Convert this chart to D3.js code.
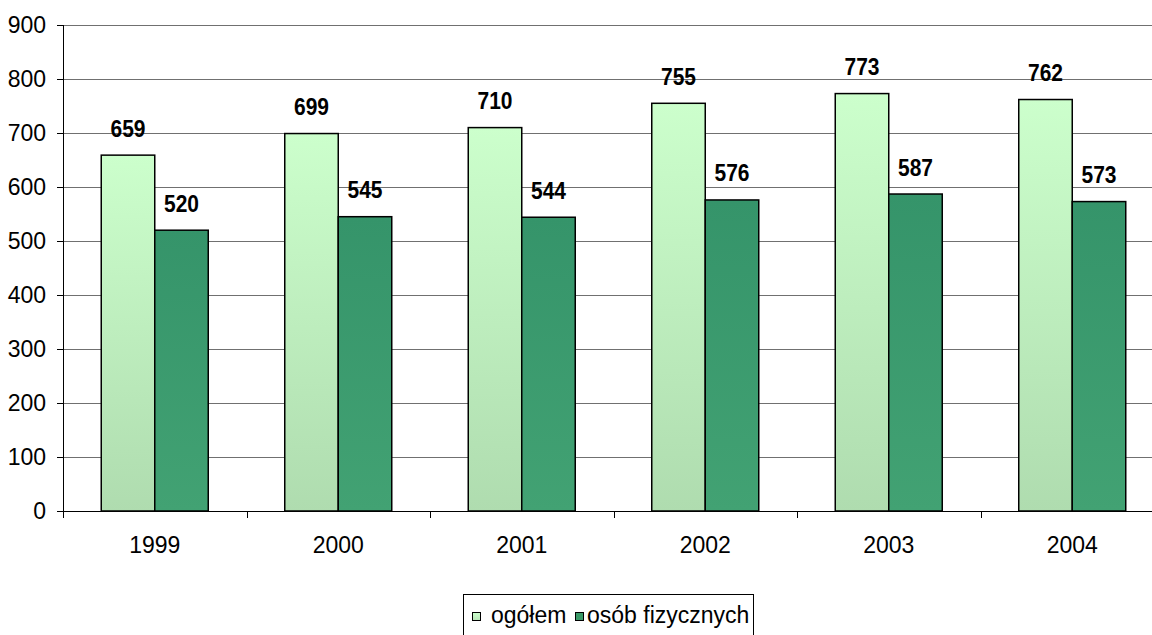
<!DOCTYPE html>
<html>
<head>
<meta charset="utf-8">
<script src="https://cdn.jsdelivr.net/npm/d3@7"></script>
<style>
  html, body { margin: 0; padding: 0; background: #fff; }
  svg { display: block; }
  text { font-family: "Liberation Sans", Arial, Helvetica, sans-serif; fill: #000; }
</style>
</head>
<body>
<svg id="chart" width="1152" height="635"></svg>
<script>
// Data
const years = ["1999", "2000", "2001", "2002", "2003", "2004"];
const seriesNames = ["ogółem", "osób fizycznych"];
const ogolem = [659, 699, 710, 755, 773, 762];
const osobFizycznych = [520, 545, 544, 576, 587, 573];
const yTicks = [0, 100, 200, 300, 400, 500, 600, 700, 800, 900];

const seriesValues = [ogolem, osobFizycznych];
const fills = ["url(#gradLight)", "url(#gradDark)"];
const legendFills = ["url(#gradLightLegend)", "#3a9a68"];

const svg = d3.select("#chart");
const chartW = 1152;
const fontSize = 23;

// Layout
const plotLeft = 63, plotTop = 25, plotBottom = 511;
const catW = 183.5;
const groupW = 107;

const x0 = d3.scaleBand().domain(years).range([plotLeft, plotLeft + catW * years.length]).padding(0);
const x1 = d3.scaleBand().domain(seriesNames).range([0, groupW]).padding(0);
const y = d3.scaleLinear().domain([0, 900]).range([plotBottom, plotTop]);

// Gradients
const defs = svg.append("defs");
function vgrad(id, c0, c1) {
  const g = defs.append("linearGradient").attr("id", id)
    .attr("x1", 0).attr("y1", 0).attr("x2", 0).attr("y2", 1);
  g.append("stop").attr("offset", "0%").attr("stop-color", c0);
  g.append("stop").attr("offset", "100%").attr("stop-color", c1);
}
vgrad("gradLight", "#ccffcc", "#afdcaf");
vgrad("gradDark", "#35946a", "#42a273");
vgrad("gradLightLegend", "#ccffcc", "#b8e6b8");

function placed(sel, xx, yy, sy = 1) {
  sel.attr("transform", `translate(${xx},${yy}) scale(1,${sy})`);
}

// Gridlines
svg.append("g").selectAll("line").data(yTicks.filter(d => d > 0)).join("line")
  .attr("x1", plotLeft).attr("x2", chartW)
  .attr("y1", d => Math.round(y(d)) + 0.5).attr("y2", d => Math.round(y(d)) + 0.5)
  .attr("stroke", "#707070").attr("stroke-width", 1);

// Bars
const groups = svg.append("g").selectAll("g").data(years).join("g")
  .attr("transform", yr => `translate(${x0(yr) + (catW - groupW) / 2},0)`);

groups.selectAll("rect").data((yr, i) => seriesNames.map((s, k) => ({ s, k, v: seriesValues[k][i] })))
  .join("rect")
  .attr("x", d => x1(d.s))
  .attr("width", x1.bandwidth())
  .attr("y", d => y(d.v))
  .attr("height", d => y(0) - y(d.v))
  .attr("fill", d => fills[d.k])
  .attr("stroke", "#000").attr("stroke-width", 1.5);

// Value labels (bold, slightly condensed look)
groups.each(function (yr, i) {
  const g = d3.select(this);
  seriesNames.forEach((s, k) => {
    const v = seriesValues[k][i];
    g.append("text")
      .attr("text-anchor", "middle")
      .attr("font-size", 21).attr("font-weight", "bold")
      .text(v)
      .call(placed, x1(s) + x1.bandwidth() / 2, y(v) - 18.5, 1.12);
  });
});

// Axes
const yAxis = d3.axisLeft(y).tickValues(yTicks).tickSize(6).tickPadding(12).tickFormat(d3.format("d"));
const gy = svg.append("g").attr("transform", `translate(${plotLeft},0)`).call(yAxis);
gy.select(".domain").remove();
gy.selectAll(".tick line").attr("stroke", "#000");
gy.selectAll(".tick text").remove();
svg.append("line").attr("x1", plotLeft + 0.5).attr("x2", plotLeft + 0.5).attr("y1", plotTop).attr("y2", plotBottom + 7)
  .attr("stroke", "#000");

svg.append("g").selectAll("text").data(yTicks).join("text")
  .attr("text-anchor", "end")
  .attr("font-size", fontSize)
  .text(d => d)
  .each(function (d) { d3.select(this).call(placed, 46, y(d) + 8); });

// X axis baseline and category separators
svg.append("line").attr("x1", plotLeft - 6).attr("x2", chartW).attr("y1", plotBottom + 0.5).attr("y2", plotBottom + 0.5)
  .attr("stroke", "#000");
const bounds = years.map(yr => x0(yr)).concat([x0(years[years.length - 1]) + catW]);
svg.append("g").selectAll("line").data(bounds).join("line")
  .attr("x1", d => Math.round(d) + 0.5).attr("x2", d => Math.round(d) + 0.5)
  .attr("y1", plotBottom).attr("y2", plotBottom + 7)
  .attr("stroke", "#000");

svg.append("g").selectAll("text").data(years).join("text")
  .attr("text-anchor", "middle")
  .attr("font-size", fontSize)
  .text(d => d)
  .each(function (d) { d3.select(this).call(placed, x0(d) + catW / 2, 553); });

// Legend
const lg = svg.append("g");
lg.append("rect").attr("x", 463.5).attr("y", 594.5).attr("width", 290).attr("height", 50)
  .attr("fill", "#fff").attr("stroke", "#000").attr("stroke-width", 1);
const legendX = [472, 575];
const textX = [491, 587];
seriesNames.forEach((s, k) => {
  lg.append("rect").attr("x", legendX[k] + 0.5).attr("y", 612.5).attr("width", 8).attr("height", 8)
    .attr("fill", legendFills[k]).attr("stroke", "#000").attr("stroke-width", 1);
  lg.append("text").attr("font-size", fontSize).text(s).call(placed, textX[k], 623);
});
</script>
</body>
</html>
